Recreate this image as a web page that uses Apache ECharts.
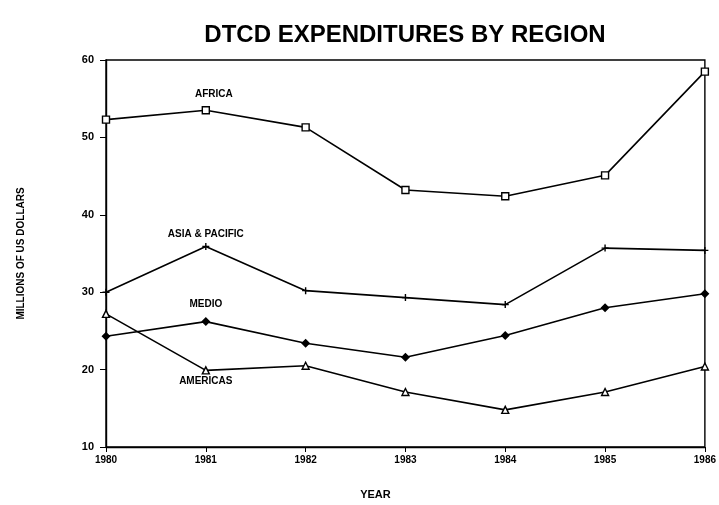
<!DOCTYPE html>
<html>
<head>
<meta charset="utf-8">
<script src="https://cdn.jsdelivr.net/npm/echarts@6/dist/echarts.min.js"></script>
<style>html,body{margin:0;padding:0;background:#fff}#c{width:719px;height:505px}</style>
</head>
<body>
<div id="c"></div>
<script>
var years = ['1980','1981','1982','1983','1984','1985','1986'];
var africa = [52.3, 53.5, 51.3, 43.2, 42.4, 45.1, 58.5];
var asiaPacific = [30.0, 35.9, 30.2, 29.3, 28.4, 35.7, 35.4];
var medio = [24.3, 26.2, 23.4, 21.6, 24.4, 28.0, 29.8];
var americas = [27.2, 19.9, 20.5, 17.1, 14.8, 17.1, 20.4];
var yTicks = [10, 20, 30, 40, 50, 60];

var FONT = '"Liberation Sans Narrow", "Liberation Sans", Arial, sans-serif';
var plusPath = 'path://M5,0 L5,10 M0,5 L10,5';

function mk(name, arr, symbol, fill, labelPos, labelOffset) {
  return {
    name: name,
    type: 'line',
    symbol: symbol,
    symbolSize: 7,
    showAllSymbol: true,
    lineStyle: { color: '#000', width: 1.6 },
    itemStyle: { color: fill, borderColor: '#000', borderWidth: 1.4 },
    data: arr.map(function (v, i) {
      var d = { value: v };
      if (i === 1) {
        d.label = {
          show: true, formatter: name, position: labelPos, offset: labelOffset,
          color: '#000', fontFamily: FONT, fontWeight: 'bold', fontSize: 10
        };
      }
      return d;
    }),
    z: 3
  };
}

var chart = echarts.init(document.getElementById('c'));
chart.setOption({
  animation: false,
  backgroundColor: '#fff',
  title: {
    text: 'DTCD EXPENDITURES BY REGION',
    left: 400, top: 18, textAlign: 'center',
    textStyle: { fontFamily: FONT, fontWeight: 'bold', fontSize: 24, color: '#000' }
  },
  grid: { left: 106, right: 8, top: 60, bottom: 55, show: true, borderColor: '#000', borderWidth: 1.4, backgroundColor: 'transparent' },
  xAxis: {
    type: 'category', data: years, boundaryGap: false,
    name: 'YEAR', nameLocation: 'middle', nameGap: 42,
    nameTextStyle: { fontFamily: FONT, fontWeight: 'bold', fontSize: 11, color: '#000', padding: [0, 60, 0, 0] },
    axisLine: { lineStyle: { color: '#000', width: 1.4 } },
    axisTick: { show: true, inside: false, length: 5, lineStyle: { color: '#000' }, alignWithLabel: true },
    axisLabel: { fontFamily: FONT, fontWeight: 'bold', fontSize: 10, color: '#000', margin: 8 },
    splitLine: { show: false }
  },
  yAxis: {
    type: 'value', min: 10, max: 60, interval: 10,
    name: 'MILLIONS OF US DOLLARS', nameLocation: 'middle', nameGap: 80, nameRotate: 90,
    nameTextStyle: { fontFamily: FONT, fontWeight: 'bold', fontSize: 10, color: '#000' },
    axisLine: { show: true, lineStyle: { color: '#000', width: 1.4 } },
    axisTick: { show: true, length: 6, lineStyle: { color: '#000' } },
    axisLabel: {
      fontFamily: FONT, fontWeight: 'bold', fontSize: 11, color: '#000', margin: 12,
      formatter: function (v) { return yTicks.indexOf(v) >= 0 ? String(v) : ''; }
    },
    splitLine: { show: false }
  },
  series: [
    mk('AFRICA', africa, 'rect', '#fff', 'top', [8, -2]),
    mk('ASIA & PACIFIC', asiaPacific, plusPath, 'none', 'top', [0, 4]),
    mk('MEDIO', medio, 'diamond', '#000', 'top', [0, -3]),
    mk('AMERICAS', americas, 'triangle', '#fff', 'bottom', [0, -3])
  ]
});
</script>
</body>
</html>
